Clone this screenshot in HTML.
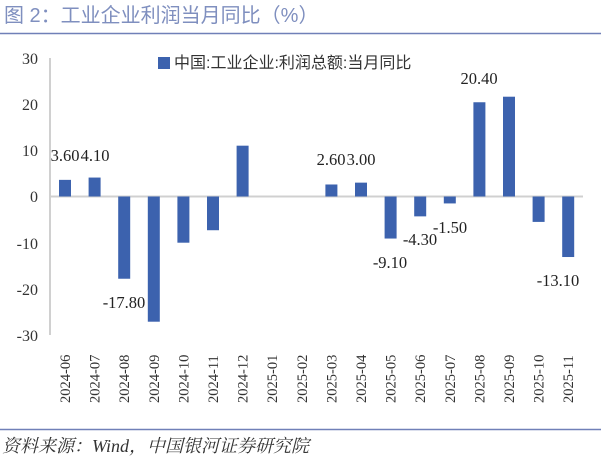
<!DOCTYPE html><html><head><meta charset="utf-8"><style>body{margin:0;background:#fff}svg{display:block}</style></head><body>
<svg width="601" height="464" xmlns="http://www.w3.org/2000/svg" font-family="Liberation Serif, Noto Serif CJK SC, serif">
<text x="4" y="22" font-size="20" fill="#7f8fbf" font-family="Liberation Sans, Noto Sans CJK SC, sans-serif">图 2：工业企业利润当月同比（%）</text>
<line x1="0" y1="33.5" x2="601" y2="33.5" stroke="#7080b8" stroke-width="1.5"/>
<line x1="50" y1="196.5" x2="583" y2="196.5" stroke="#d0d0d0" stroke-width="2"/>
<line x1="50" y1="58" x2="50" y2="335" stroke="#d0d0d0" stroke-width="2"/>
<g font-size="16" fill="#333" text-anchor="end">
<text x="38" y="64">30</text><text x="38" y="110">20</text><text x="38" y="156">10</text><text x="38" y="202">0</text><text x="38" y="249">-10</text><text x="38" y="295">-20</text><text x="38" y="341">-30</text></g>
<rect x="158" y="57" width="12" height="12" fill="#3c62ae"/>
<text x="174" y="68" font-size="16" fill="#333" font-family="Liberation Sans, Noto Sans CJK SC, sans-serif">中国:工业企业:利润总额:当月同比</text>
<g fill="#3c62ae" id="bars"></g>
<g id="lbl" font-size="16.5" fill="#222" text-anchor="middle">
<text x="65" y="161">3.60</text><text x="95" y="161">4.10</text><text x="124" y="308">-17.80</text>
<text x="331" y="165">2.60</text><text x="361" y="165">3.00</text><text x="390" y="268">-9.10</text>
<text x="420" y="245">-4.30</text><text x="450" y="233">-1.50</text><text x="479" y="84">20.40</text><text x="558" y="286">-13.10</text></g>
<g id="xl" font-size="14.5" fill="#333"></g>
<line x1="0" y1="429.5" x2="601" y2="429.5" stroke="#7080b8" stroke-width="1.5"/>
<text x="2" y="452" font-size="18" font-style="italic" fill="#333">资料来源：Wind，中国银河证券研究院</text>
<script>
var v=[3.6,4.1,-17.8,-27.1,-10,-7.3,11,null,null,2.6,3.0,-9.1,-4.3,-1.5,20.4,21.6,-5.5,-13.1];
var lab=["2024-06","2024-07","2024-08","2024-09","2024-10","2024-11","2024-12","2025-01","2025-02","2025-03","2025-04","2025-05","2025-06","2025-07","2025-08","2025-09","2025-10","2025-11"];
var ns="http://www.w3.org/2000/svg",z=196.5,k=4.62;
function el(p,t,a,tx){var e=document.createElementNS(ns,t);for(var i in a)e.setAttribute(i,a[i]);if(tx)e.textContent=tx;document.getElementById(p).appendChild(e);}
for(var i=0;i<18;i++){var cx=65+i*29.6;
if(v[i]!==null){var h=v[i]*k;el("bars","rect",{x:cx-6,y:v[i]>0?z-h:z,width:12,height:Math.abs(h)});}
el("xl","text",{transform:"translate("+(cx+5)+",403) rotate(-90)"},lab[i]);}
</script>
</svg></body></html>
